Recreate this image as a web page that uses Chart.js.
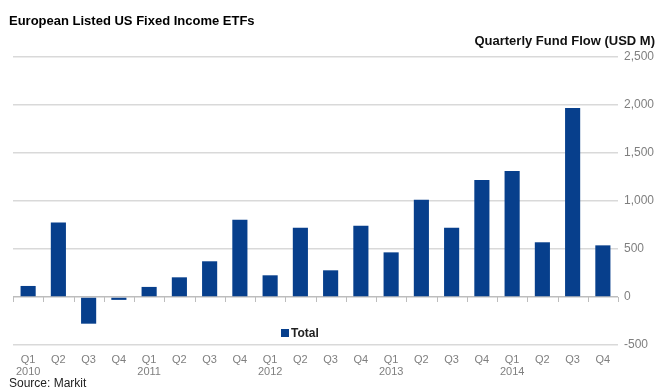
<!DOCTYPE html>
<html>
<head>
<meta charset="utf-8">
<script src="https://cdn.jsdelivr.net/npm/chart.js@4/dist/chart.umd.min.js"></script>
<style>
  html, body { margin: 0; padding: 0; background: #ffffff; }
  #wrap { width: 659px; height: 389px; position: relative; }
</style>
</head>
<body>
<div id="wrap"><canvas id="c" width="659" height="389"></canvas></div>
<script>
const chartTitle = "European Listed US Fixed Income ETFs";
const unitLabel = "Quarterly Fund Flow (USD M)";
const sourceText = "Source: Markit";
const seriesName = "Total";
const quarters = ["Q1","Q2","Q3","Q4","Q1","Q2","Q3","Q4","Q1","Q2","Q3","Q4","Q1","Q2","Q3","Q4","Q1","Q2","Q3","Q4"];
const years = ["2010","","","","2011","","","","2012","","","","2013","","","","2014","","",""];
const flows = [115, 775, -278, -30, 105, 205, 372, 805, 226, 722, 278, 743, 465, 1014, 722, 1219, 1313, 570, 1969, 538];
const yTicks = [-500, 0, 500, 1000, 1500, 2000, 2500];

const FONT = "'Liberation Sans', Arial, sans-serif";
const labels = quarters.map((q, i) => years[i] ? [q, years[i]] : q);

const extras = {
  id: 'extras',
  afterDatasetsDraw(chart) {
    const ctx = chart.ctx;
    const xs = chart.scales.x, ys = chart.scales.y;
    const n = labels.length;
    const cw = xs.width / n;
    const y0 = ys.getPixelForValue(0);
    ctx.save();
    ctx.strokeStyle = '#bdbdbd';
    ctx.lineWidth = 1;
    for (let i = 0; i <= n; i++) {
      const x = Math.round(xs.getPixelForValue(0) - cw / 2 + i * cw) + 0.5;
      ctx.beginPath();
      ctx.moveTo(x, y0);
      ctx.lineTo(x, y0 + 5);
      ctx.stroke();
    }
    // legend inside plot
    const ly = ys.getPixelForValue(-375);
    const lx = chart.chartArea.left + 268;
    ctx.fillStyle = chart.data.datasets[0].backgroundColor;
    ctx.fillRect(lx, ly - 4, 8, 8);
    ctx.fillStyle = '#222222';
    ctx.font = "bold 12px " + FONT;
    ctx.textBaseline = 'middle';
    ctx.textAlign = 'left';
    ctx.fillText(seriesName, lx + 10, ly + 0.5);
    // source
    ctx.font = "12px " + FONT;
    ctx.fillStyle = '#222222';
    ctx.fillText(sourceText, 9, 384);
    ctx.restore();
  }
};

new Chart(document.getElementById('c'), {
  type: 'bar',
  data: {
    labels: labels,
    datasets: [{
      label: seriesName,
      data: flows,
      xAxisID: 'x',
      yAxisID: 'y',
      backgroundColor: '#073f8c',
      borderWidth: 0,
      barPercentage: 0.5,
      categoryPercentage: 1.0
    }]
  },
  options: {
    responsive: false,
    animation: false,
    devicePixelRatio: 1,
    layout: { padding: { left: 9, right: 4, top: 0, bottom: 0 } },
    plugins: {
      legend: { display: false },
      tooltip: { enabled: false },
      title: {
        display: true,
        text: chartTitle,
        align: 'start',
        color: '#000000',
        font: { family: FONT, size: 13, weight: 'bold' },
        padding: { top: 14, bottom: 0 }
      },
      subtitle: {
        display: true,
        text: unitLabel,
        align: 'end',
        color: '#111111',
        font: { family: FONT, size: 13, weight: 'bold' },
        padding: { top: 3.6, bottom: 8.2 }
      }
    },
    scales: {
      pad: {
        type: 'linear',
        axis: 'y',
        position: 'left',
        display: true,
        min: 0,
        max: 1,
        grid: { display: false, drawTicks: false },
        border: { display: false },
        ticks: { display: false },
        afterFit(s) { s.width = 4; }
      },
      x: {
        grid: { display: false, drawTicks: false },
        border: { display: false },
        ticks: {
          color: '#7f7f7f',
          font: { family: FONT, size: 11, lineHeight: '12px' },
          padding: 9,
          maxRotation: 0,
          autoSkip: false
        },
        afterFit(s) { s.height = 44; }
      },
      y: {
        position: 'right',
        min: -500,
        max: 2500,
        afterBuildTicks(s) { s.ticks = yTicks.map(v => ({ value: v })); },
        grid: {
          drawTicks: false,
          lineWidth: 1.5,
          color: (c) => c.tick && c.tick.value === 0 ? '#bdbdbd' : '#d9d9d9'
        },
        border: { display: false },
        ticks: {
          color: '#7f7f7f',
          font: { family: FONT, size: 12 },
          padding: 6,
          callback: (v) => Number(v).toLocaleString('en-US')
        },
        afterFit(s) { s.width = 37; }
      }
    }
  },
  plugins: [extras]
});
</script>
</body>
</html>
